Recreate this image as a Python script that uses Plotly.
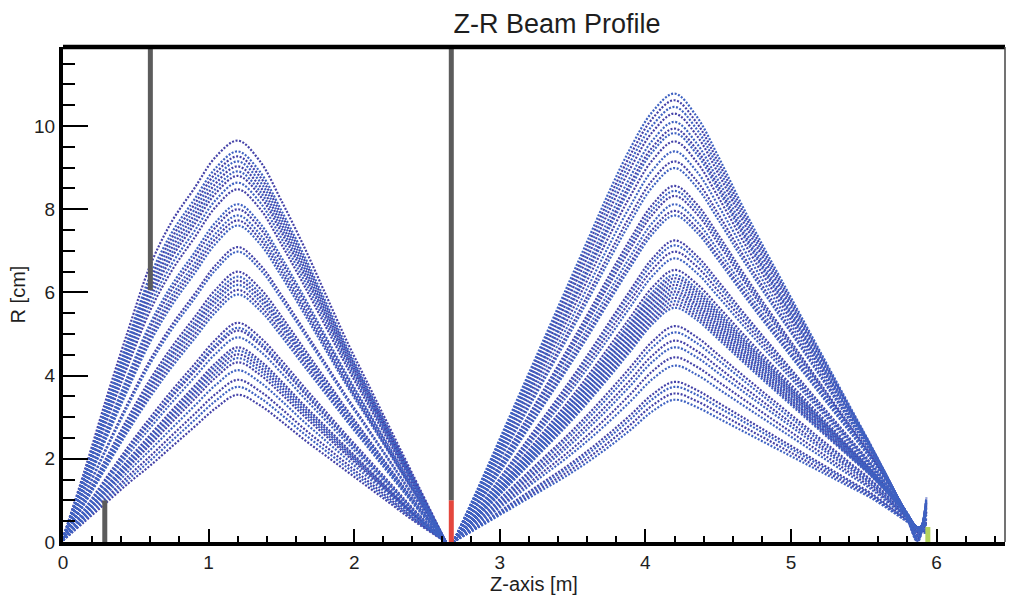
import plotly.graph_objects as go

# ---- first focusing cell: knot positions (m) and envelope shapes (fraction of peak radius)
z_cell1 = [0.0, 0.15, 0.3, 0.45, 0.6, 0.75, 0.9, 1.05, 1.2, 1.35, 1.5, 1.65, 1.8,
           1.95, 2.1, 2.25, 2.4, 2.63]
outer_cell1 = [0.01, 0.18, 0.36, 0.53, 0.69, 0.80, 0.88, 0.96, 1.0, 0.95, 0.85, 0.74,
               0.62, 0.5, 0.39, 0.28, 0.17, 0.0]
inner_cell1 = [0.01, 0.14, 0.27, 0.40, 0.52, 0.65, 0.78, 0.91, 1.0, 0.93, 0.82, 0.70,
               0.59, 0.48, 0.37, 0.26, 0.15, 0.0]
# peak radius (cm) of every ray in the first cell
peaks_cell1 = [9.65, 9.39, 9.27, 9.15, 9.03, 8.91, 8.80, 8.64, 8.48, 8.12, 8.00, 7.85,
               7.73, 7.61, 7.09, 6.98, 6.50, 6.38, 6.28, 6.18, 6.06, 5.95, 5.27, 5.15,
               5.08, 4.92, 4.68, 4.60, 4.51, 4.42, 4.32, 4.13, 3.90, 3.73, 3.54]

# ---- second focusing cell
z_cell2 = [2.68, 2.85, 3.0, 3.15, 3.3, 3.45, 3.6, 3.75, 3.9, 4.05, 4.2, 4.35, 4.5,
           4.65, 4.8, 4.95, 5.1, 5.25, 5.4, 5.55, 5.7, 5.8, 5.87, 5.93]
outer_cell2 = [0.0, 0.12, 0.23, 0.34, 0.45, 0.56, 0.67, 0.78, 0.88, 0.96, 1.0, 0.95,
               0.86, 0.76, 0.665, 0.575, 0.485, 0.395, 0.305, 0.215, 0.12, 0.05, 0.0, 0.1]
inner_cell2 = [0.0, 0.10, 0.19, 0.28, 0.37, 0.46, 0.56, 0.67, 0.79, 0.92, 1.0, 0.95,
               0.87, 0.79, 0.71, 0.63, 0.55, 0.47, 0.39, 0.31, 0.21, 0.14, 0.09, 0.06]
peaks_cell2 = [10.78, 10.62, 10.46, 10.30, 10.10, 9.94, 9.83, 9.63, 9.39, 9.15, 8.99,
               8.56, 8.44, 8.32, 8.12, 7.96, 7.85, 7.25, 7.13, 6.98, 6.82, 6.54, 6.42,
               6.34, 6.26, 6.18, 6.10, 6.02, 5.95, 5.87, 5.79, 5.71, 5.63, 5.19, 5.04,
               4.84, 4.68, 4.44, 4.24, 3.85, 3.73, 3.57, 3.42]

# ---- beamline elements: position (m), radial extent (cm), colour
element_z = [0.287, 0.60, 2.667, 2.667, 5.94]
element_r0 = [0.0, 6.05, 1.0, 0.0, 0.0]
element_r1 = [1.0, 11.9, 11.9, 1.0, 0.36]
element_color = ['#5c5c5c', '#5c5c5c', '#5c5c5c', '#e4473d', '#b3d35c']

ray_colors = ['#4442a8', '#3f62c2']


def ray_paths(z_knots, outer, inner, peaks):
    """Scale the envelope shape of each ray by its peak radius."""
    lo, hi = min(peaks), max(peaks)
    paths = []
    for a in peaks:
        t = (a - lo) / (hi - lo)
        r = [a * (i + t * (o - i)) for o, i in zip(outer, inner)]
        paths.append((list(z_knots), r))
    return paths


paths = (ray_paths(z_cell1, outer_cell1, inner_cell1, peaks_cell1)
         + ray_paths(z_cell2, outer_cell2, inner_cell2, peaks_cell2))

fig = go.Figure()

for k, col in enumerate(ray_colors):
    xs, ys = [], []
    for zz, rr in paths[k::2]:
        xs += zz + [None]
        ys += rr + [None]
    fig.add_trace(go.Scatter(
        x=xs, y=ys, mode='lines', connectgaps=False,
        line=dict(color=col, width=2.2, dash='2px,1.6px', shape='spline', smoothing=1.0),
        hoverinfo='skip'))

for z, r0, r1, c in zip(element_z, element_r0, element_r1, element_color):
    fig.add_trace(go.Scatter(x=[z, z], y=[r0, r1], mode='lines',
                             line=dict(color=c, width=5), hoverinfo='skip'))

fig.update_layout(
    width=1010, height=595,
    margin=dict(l=63, r=5, t=47, b=48),
    paper_bgcolor='white', plot_bgcolor='white',
    showlegend=False,
    font=dict(family='Liberation Sans, Arial, sans-serif', size=19, color='#1e1e1e'),
    title=dict(text='Z-R Beam Profile', x=557 / 1010, xanchor='center',
               y=1 - 24 / 595, yanchor='middle', font=dict(size=27)),
    shapes=[
        dict(type='line', xref='paper', yref='paper', x0=0, x1=1, y0=1, y1=1,
             line=dict(color='black', width=4.5)),
        dict(type='line', xref='paper', yref='paper', x0=1, x1=1, y0=0, y1=1,
             line=dict(color='#444444', width=1.5)),
    ],
)

fig.update_xaxes(
    range=[0, 6.47], showgrid=False, zeroline=False,
    showline=True, linecolor='black', linewidth=4,
    ticks='inside', ticklen=13, tickwidth=2, tickcolor='black',
    tick0=0, dtick=1,
    minor=dict(ticks='inside', ticklen=6, tickwidth=2, tickcolor='black', dtick=0.2,
               showgrid=False),
    title=dict(text='Z-axis [m]', standoff=3, font=dict(size=20)),
)
fig.update_yaxes(
    range=[0, 11.9], showgrid=False, zeroline=False,
    showline=True, linecolor='black', linewidth=4,
    ticks='inside', ticklen=25, tickwidth=2, tickcolor='black',
    tick0=0, dtick=2,
    minor=dict(ticks='inside', ticklen=12, tickwidth=2, tickcolor='black', dtick=0.5,
               showgrid=False),
    title=dict(text='R [cm]', standoff=4, font=dict(size=20)),
)

fig.write_html('out.html')
